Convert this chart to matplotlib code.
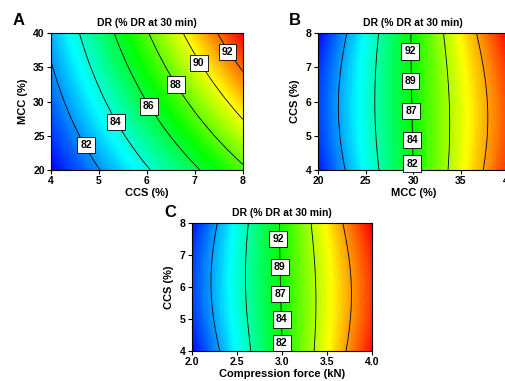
import numpy as np
import matplotlib
matplotlib.use('Agg')
import matplotlib.pyplot as plt
from matplotlib.colors import LinearSegmentedColormap

plt.rcParams['font.family'] = ['Liberation Sans', 'DejaVu Sans']
plt.rcParams['font.weight'] = 'bold'
plt.rcParams['axes.labelweight'] = 'bold'
plt.rcParams['axes.titleweight'] = 'bold'

title = 'DR (% DR at 30 min)'

# panel A: points (CCS %, MCC %)
a_levels = [82, 84, 86, 88, 90, 92]
a_ccs = [[4.00, 4.73, 5.09], [4.57, 5.35, 5.99], [5.35, 6.04, 7.08],
         [6.10, 6.60, 8.00], [6.79, 7.08, 8.00], [7.42, 7.68, 8.00]]
a_mcc = [[35.2, 23.7, 20.0], [40.0, 27.0, 20.0], [40.0, 29.3, 20.0],
         [40.0, 32.5, 20.8], [40.0, 35.6, 28.1], [40.0, 37.3, 34.4]]
a_lab_x = [4.73, 5.35, 6.04, 6.60, 7.08, 7.68]
a_lab_y = [23.7, 27.0, 29.3, 32.5, 35.6, 37.3]

# panel B: contour lines at CCS = 8, 6, 4 (MCC %)
b_levels = [82, 84.5, 87, 89.5, 92]
b_ccs_rows = [8, 6, 4]
b_mcc = [[23.0, 22.1, 22.8], [26.5, 26.0, 26.5], [29.65, 29.8, 29.9],
         [33.0, 33.85, 33.7], [36.75, 37.7, 37.3]]
b_labels = [92, 89, 87, 84, 82]
b_lab_x = [29.65, 29.7, 29.8, 29.9, 29.9]
b_lab_y = [7.47, 6.60, 5.72, 4.87, 4.19]

# panel C: contour lines at CCS = 8, 6, 4 (compression force kN)
c_levels = [82, 84.5, 87, 89.5, 92]
c_ccs_rows = [8, 6, 4]
c_force = [[2.285, 2.219, 2.311], [2.633, 2.589, 2.656], [2.967, 2.989, 3.007],
           [3.33, 3.385, 3.367], [3.68, 3.77, 3.71]]
c_labels = [92, 89, 87, 84, 82]
c_lab_x = [2.96, 2.98, 2.985, 3.0, 3.0]
c_lab_y = [7.52, 6.64, 5.79, 4.99, 4.24]

cmap = LinearSegmentedColormap.from_list(
    'dr', ['#0000ff', '#00ffff', '#00ff00', '#ffff00', '#ff0000'])


def quad_basis(u, v):
    return np.stack([np.ones_like(u), u, v, u * u, v * v, u * v], axis=-1)


def saddle_basis(u, v):
    return np.stack([np.ones_like(u), u, u * u, v, v * v, u * v, u * v * v], axis=-1)


def fit(basis, u, v, z, U, V):
    coef = np.linalg.lstsq(basis(u, v), z, rcond=None)[0]
    return basis(U, V) @ coef


def draw(ax, U, V, Z, levels):
    ax.contourf(U, V, Z, levels=np.linspace(Z.min(), Z.max(), 120), cmap=cmap)
    ax.contour(U, V, Z, levels=levels, colors='black', linewidths=0.6)


def boxes(ax, xs, ys, vals):
    for x, y, v in zip(xs, ys, vals):
        ax.text(x, y, str(v), ha='center', va='center', fontsize=7.5, zorder=5,
                bbox=dict(boxstyle='square,pad=0.3', fc='white', ec='black', lw=0.6))


def style(ax, xlabel, ylabel):
    ax.set_title(title, fontsize=7.5, pad=5)
    ax.set_xlabel(xlabel, fontsize=8, labelpad=1.5)
    ax.set_ylabel(ylabel, fontsize=8, labelpad=4)
    ax.tick_params(labelsize=7.5, length=3, width=0.8, pad=1.5)
    for s in ax.spines.values():
        s.set_linewidth(0.8)


fig = plt.figure(figsize=(5.05, 3.81), dpi=100)

# A
axA = fig.add_axes([0.101, 0.5538, 0.380, 0.3588])
u = np.array(a_ccs).ravel()
v = np.array(a_mcc).ravel()
z = np.repeat(a_levels, 3).astype(float)
U, V = np.meshgrid(np.linspace(4, 8, 200), np.linspace(20, 40, 200))
draw(axA, U, V, fit(quad_basis, u, v, z, U, V), a_levels)
boxes(axA, a_lab_x, a_lab_y, a_levels)
axA.set_xlim(4, 8)
axA.set_ylim(20, 40)
axA.set_xticks([4, 5, 6, 7, 8])
axA.set_yticks([20, 25, 30, 35, 40])
style(axA, 'CCS (%)', 'MCC (%)')

# B
axB = fig.add_axes([0.6297, 0.5538, 0.3776, 0.3588])
u = np.array(b_mcc).ravel()
v = np.tile(b_ccs_rows, len(b_levels)).astype(float)
z = np.repeat(b_levels, 3).astype(float)
U, V = np.meshgrid(np.linspace(20, 40, 200), np.linspace(4, 8, 200))
draw(axB, U, V, fit(saddle_basis, u, v, z, U, V), b_levels)
boxes(axB, b_lab_x, b_lab_y, b_labels)
axB.set_xlim(20, 40)
axB.set_ylim(4, 8)
axB.set_xticks([20, 25, 30, 35, 40])
axB.set_yticks([4, 5, 6, 7, 8])
style(axB, 'MCC (%)', 'CCS (%)')

# C
axC = fig.add_axes([0.3796, 0.0787, 0.3564, 0.3352])
u = np.array(c_force).ravel()
v = np.tile(c_ccs_rows, len(c_levels)).astype(float)
z = np.repeat(c_levels, 3).astype(float)
U, V = np.meshgrid(np.linspace(2, 4, 200), np.linspace(4, 8, 200))
draw(axC, U, V, fit(saddle_basis, u, v, z, U, V), c_levels)
boxes(axC, c_lab_x, c_lab_y, c_labels)
axC.set_xlim(2, 4)
axC.set_ylim(4, 8)
axC.set_xticks([2.0, 2.5, 3.0, 3.5, 4.0])
axC.set_xticklabels(['2.0', '2.5', '3.0', '3.5', '4.0'])
axC.set_yticks([4, 5, 6, 7, 8])
style(axC, 'Compression force (kN)', 'CCS (%)')

fig.text(0.024, 0.934, 'A', fontsize=12, fontweight='bold')
fig.text(0.572, 0.934, 'B', fontsize=12, fontweight='bold')
fig.text(0.325, 0.430, 'C', fontsize=12, fontweight='bold')

fig.savefig('out.png', dpi=100)
